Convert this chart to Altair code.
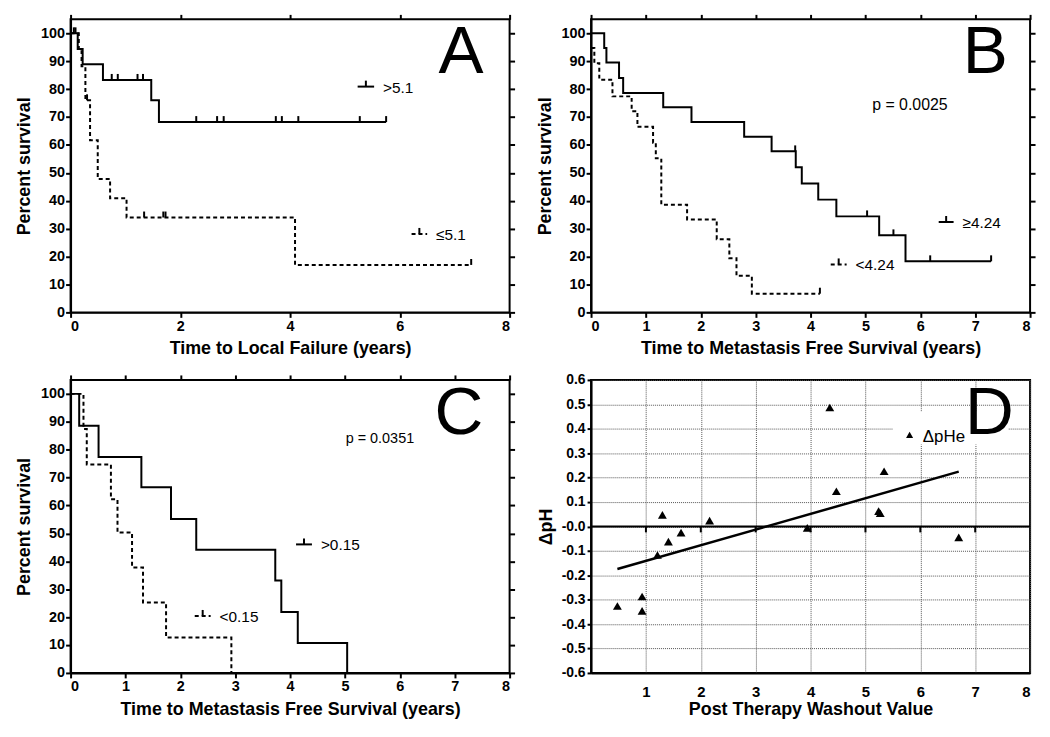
import altair as alt
import pandas as pd

FONT = "Liberation Sans"
W, H = 442, 295

# ---------------- Panel A : Time to Local Failure ----------------
a_hi_t = [0, 0.13, 0.22, 0.59, 1.47, 1.61, 5.75]
a_hi_s = [100, 94.4, 88.9, 83.3, 76.0, 68.2, 68.2]
a_hi_cens = [0.06, 0.75, 0.86, 1.22, 1.32, 2.29, 2.67, 2.79, 3.74, 3.85, 4.15, 5.27, 5.75]
a_lo_t = [0, 0.15, 0.20, 0.27, 0.355, 0.495, 0.72, 1.02, 4.09, 7.3]
a_lo_s = [100, 94.4, 88.2, 76.0, 61.7, 47.8, 40.9, 34.0, 17.0, 17.0]
a_lo_cens = [0.09, 0.30, 1.34, 1.69, 1.73, 7.3]

# ---------------- Panel B : Metastasis free survival (4.24 split) ----------------
b_hi_t = [0, 0.24, 0.28, 0.51, 0.585, 1.315, 1.83, 2.79, 3.29, 3.73, 3.84, 4.14, 4.47, 5.25, 5.73, 7.29]
b_hi_s = [100, 94.7, 89.5, 84.0, 78.6, 73.5, 68.2, 62.9, 57.7, 52.0, 46.2, 40.4, 34.4, 27.6, 18.3, 18.3]
b_hi_cens = [3.72, 5.03, 5.51, 6.18, 7.29]
b_lo_t = [0, 0.06, 0.15, 0.39, 0.74, 0.845, 1.13, 1.18, 1.28, 1.75, 2.29, 2.52, 2.65, 2.93, 4.17]
b_lo_s = [94.7, 89.3, 83.4, 77.4, 72.1, 66.5, 60.8, 55.2, 38.6, 33.3, 26.2, 19.4, 13.1, 6.7, 6.7]
b_lo_cens = [4.17]

# ---------------- Panel C : Metastasis free survival (0.15 split) ----------------
c_hi_t = [0, 0.157, 0.51, 1.29, 1.83, 2.29, 3.73, 3.84, 4.14, 5.04]
c_hi_s = [100, 88.6, 77.4, 66.5, 55.2, 44.1, 33.1, 21.8, 10.7, 0]
c_hi_cens = []
c_lo_t = [0, 0.235, 0.295, 0.735, 0.855, 1.12, 1.32, 1.74, 2.93]
c_lo_s = [100, 87.4, 74.7, 62.2, 50.3, 37.8, 25.2, 12.7, 0]
c_lo_cens = []

# ---------------- Panel D : scatter ----------------
d_x = [0.48, 0.93, 0.93, 1.21, 1.30, 1.41, 1.64, 2.16, 3.94, 4.35, 4.47, 5.24, 5.27, 5.34, 6.70]
d_y = [-0.326, -0.287, -0.346, -0.117, 0.047, -0.062, -0.025, 0.024, -0.006, 0.487, 0.144, 0.063, 0.054, 0.226, -0.045]
d_zero_ticks = [1, 2, 3, 4, 5, 6, 7]
d_zero_line = [0]
d_legend_box_x = [5.5, 7.6]
d_legend_box_y = [0.335, 0.47]


def step_value(ts, ss, c):
    v = ss[0]
    for t, s in zip(ts, ss):
        if t <= c:
            v = s
    return v


def curve_df(ts, ss):
    return pd.DataFrame({"t": ts, "s": ss})


def cens_df(ts, ss, cs):
    return pd.DataFrame({"t": cs, "s": [step_value(ts, ss, c) for c in cs]})


one = pd.DataFrame({"k": [0]})


def txt(s, x, y, size, align="left", weight="normal"):
    return alt.Chart(one).mark_text(
        font=FONT, fontSize=size, align=align, baseline="alphabetic",
        fontWeight=weight, color="black"
    ).encode(x=alt.value(x), y=alt.value(y), text=alt.value(s))


def legend_entry(x1, x2, y, label, dashed):
    kw = dict(color="black", strokeWidth=2)
    if dashed:
        kw["strokeDash"] = [4, 3]
    seg = alt.Chart(one).mark_rule(**kw).encode(
        x=alt.value(x1), x2=alt.value(x2), y=alt.value(y))
    tick = alt.Chart(one).mark_rule(color="black", strokeWidth=2).encode(
        x=alt.value((x1 + x2) / 2), y=alt.value(y - 6), y2=alt.value(y))
    lab = txt(label, x2 + 9, y + 6, 15.5)
    return [seg, tick, lab]


def km_panel(hi, lo, x_step, xtitle, legends, ptext, letter, letter_x):
    xs = alt.Scale(domain=[0, 8], nice=False, zero=False)
    ys = alt.Scale(domain=[0, 105], nice=False, zero=False)
    xvals = list(range(0, 9, x_step))
    yvals = list(range(0, 101, 10))
    solid = alt.Chart(curve_df(hi[0], hi[1])).mark_line(
        interpolate="step-after", color="black", strokeWidth=2
    ).encode(
        x=alt.X("t:Q", scale=xs, axis=alt.Axis(values=xvals, title=xtitle, orient="bottom", format="d")),
        y=alt.Y("s:Q", scale=ys, axis=alt.Axis(values=yvals, title="Percent survival", orient="left")),
    )
    mirror = alt.Chart(curve_df(hi[0], hi[1])).mark_line(opacity=0).encode(
        x=alt.X("t:Q", scale=xs, axis=alt.Axis(values=xvals, title=None, orient="top", labels=False, domain=False)),
        y=alt.Y("s:Q", scale=ys, axis=alt.Axis(values=yvals, title=None, orient="right", labels=False, domain=False)),
    )
    dashed = alt.Chart(curve_df(lo[0], lo[1])).mark_line(
        interpolate="step-after", color="black", strokeWidth=2, strokeDash=[4, 3]
    ).encode(
        x=alt.X("t:Q", scale=xs, axis=None),
        y=alt.Y("s:Q", scale=ys, axis=None),
    )
    layers = [solid, mirror, dashed]
    for ser in (hi, lo):
        if ser[2]:
            layers.append(
                alt.Chart(cens_df(ser[0], ser[1], ser[2])).mark_rule(
                    color="black", strokeWidth=2, y2Offset=-6
                ).encode(
                    x=alt.X("t:Q", scale=xs, axis=None),
                    y=alt.Y("s:Q", scale=ys, axis=None),
                    y2="s:Q",
                )
            )
    for lg in legends:
        layers += legend_entry(*lg)
    if ptext:
        layers.append(txt(ptext[0], ptext[1], ptext[2], ptext[3]))
    layers.append(txt(letter, letter_x, 54, 68, align="center"))
    return alt.layer(*layers).resolve_axis(x="independent", y="independent").properties(width=W, height=H)


panel_a = km_panel(
    (a_hi_t, a_hi_s, a_hi_cens), (a_lo_t, a_lo_s, a_lo_cens), 2,
    "Time to Local Failure (years)",
    [(289, 305.6, 67.7, ">5.1", False), (343.3, 359, 216, "\u22645.1", True)],
    None, "A", 393,
)
panel_b = km_panel(
    (b_hi_t, b_hi_s, b_hi_cens), (b_lo_t, b_lo_s, b_lo_cens), 1,
    "Time to Metastasis Free Survival (years)",
    [(350, 365, 204, "\u22654.24", False), (241.3, 257.3, 246.7, "<4.24", True)],
    ("p = 0.0025", 283, 91, 16), "B", 397,
)
panel_c = km_panel(
    (c_hi_t, c_hi_s, c_hi_cens), (c_lo_t, c_lo_s, c_lo_cens), 1,
    "Time to Metastasis Free Survival (years)",
    [(227, 243, 165.6, ">0.15", False), (125, 141, 237.6, "<0.15", True)],
    ("p = 0.0351", 277, 63.3, 14.5), "C", 391,
)

# ---------------- Panel D ----------------
dxs = alt.Scale(domain=[0, 8], nice=False, zero=False)
dys = alt.Scale(domain=[-0.6, 0.6], nice=False, zero=False)
d_df = pd.DataFrame({"wash": d_x, "dph": d_y})
pts = alt.Chart(d_df)
d_points = pts.mark_point(shape="triangle-up", filled=True, color="black", size=80, opacity=1).encode(
    x=alt.X("wash:Q", scale=dxs, axis=alt.Axis(
        orient="bottom", values=list(range(1, 9)), title="Post Therapy Washout Value", ticks=False,
        labelPadding=12, grid=True, gridDash=[1, 1], gridColor="#555", gridWidth=1,
        labelFontSize=15, titleFontSize=18, titlePadding=1, format="d")),
    y=alt.Y("dph:Q", scale=dys, axis=alt.Axis(
        orient="left", values=[round(i / 10, 1) for i in range(-6, 7)], title="\u0394pH",
        grid=True, gridDash=[1, 1], gridColor="#555", gridWidth=1,
        labelFontSize=14, titleFontSize=18, tickSize=4, labelPadding=2, titlePadding=6,
        labelExpr="datum.value < -0.001 ? '-' + format(-datum.value, '.1f') : (datum.value < 0.001 ? '-0.0' : format(datum.value, '.1f'))")),
)
d_box = alt.Chart(pd.DataFrame({"x1": [d_legend_box_x[0]], "x2": [d_legend_box_x[1]],
                                "y1": [d_legend_box_y[0]], "y2": [d_legend_box_y[1]]})).mark_rect(color="white").encode(
    x=alt.X("x1:Q", scale=dxs, axis=None), x2="x2:Q",
    y=alt.Y("y1:Q", scale=dys, axis=None), y2="y2:Q")
d_zero = alt.Chart(pd.DataFrame({"z": d_zero_line})).mark_rule(color="black", strokeWidth=2).encode(
    y=alt.Y("z:Q", scale=dys, axis=None))
d_zt = alt.Chart(pd.DataFrame({"tx": d_zero_ticks, "z": [0] * len(d_zero_ticks)})).mark_rule(
    color="black", strokeWidth=2, y2Offset=6).encode(
    x=alt.X("tx:Q", scale=dxs, axis=None), y=alt.Y("z:Q", scale=dys, axis=None), y2="z:Q")
d_fit = pts.transform_regression("wash", "dph").mark_line(color="black", strokeWidth=2.5).encode(
    x=alt.X("wash:Q", scale=dxs, axis=None), y=alt.Y("dph:Q", scale=dys, axis=None))
d_leg_pt = alt.Chart(one).mark_point(shape="triangle-up", filled=True, color="black", size=50, opacity=1).encode(
    x=alt.value(320.7), y=alt.value(55.3))
panel_d = alt.layer(
    d_points, d_box, d_zero, d_zt, d_fit, d_leg_pt,
    txt("\u0394pHe", 334, 62.3, 17),
    txt("D", 401, 54, 68, align="center"),
).resolve_axis(x="independent", y="independent").properties(width=W, height=H)

chart = alt.concat(
    panel_a, panel_b, panel_c, panel_d, columns=2, bounds="flush",
    spacing={"row": 68, "column": 82},
).properties(
    padding={"left": 6, "top": 2, "right": 5, "bottom": 5},
).configure_view(
    stroke="black", strokeWidth=2
).configure_axis(
    labelFont=FONT, titleFont=FONT, labelFontWeight="bold", titleFontWeight="bold",
    labelFontSize=14.5, titleFontSize=18, labelColor="black", titleColor="black",
    domainColor="black", domainWidth=2, tickColor="black", tickWidth=2, tickSize=5,
    labelPadding=2, titlePadding=7, grid=False,
).configure_axisLeft(labelPadding=1)

chart.save("out.html", embed_options={"renderer": "svg", "actions": False})
